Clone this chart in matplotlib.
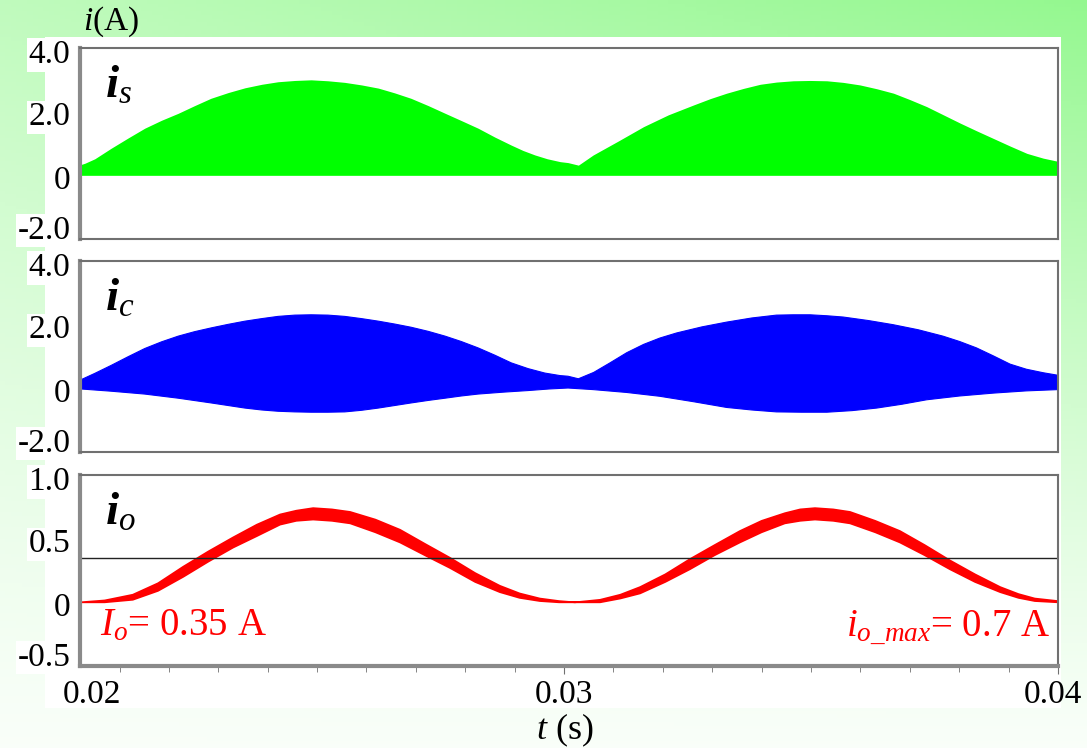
import numpy as np
import matplotlib
matplotlib.use('Agg')
from matplotlib import pyplot as plt
from matplotlib.patches import Rectangle
from matplotlib.ticker import MultipleLocator

plt.rcParams['font.family'] = ['Liberation Serif', 'DejaVu Serif']
plt.rcParams['mathtext.fontset'] = 'custom'
plt.rcParams['mathtext.rm'] = 'Liberation Serif'
plt.rcParams['mathtext.it'] = 'Liberation Serif:italic'
plt.rcParams['mathtext.bf'] = 'Liberation Serif:bold'
plt.rcParams['mathtext.bfit'] = 'Liberation Serif:bold:italic'

# source current i_s (upper envelope, filled down to 0)
t_s = [0.02020, 0.02030, 0.02050, 0.02083, 0.02117, 0.02151, 0.02185, 0.02219,
       0.02252, 0.02285, 0.02320, 0.02354, 0.02388, 0.02421, 0.02455, 0.02488,
       0.02522, 0.02556, 0.02590, 0.02624, 0.02657, 0.02690, 0.02725, 0.02759,
       0.02792, 0.02826, 0.02860, 0.02893, 0.02917, 0.02941, 0.02966, 0.02992,
       0.03008, 0.03029, 0.03059, 0.03110, 0.03161, 0.03211, 0.03262, 0.03296,
       0.03329, 0.03363, 0.03397, 0.03430, 0.03464, 0.03498, 0.03532, 0.03565,
       0.03599, 0.03633, 0.03667, 0.03700, 0.03734, 0.03768, 0.03802, 0.03835,
       0.03869, 0.03903, 0.03937, 0.03970, 0.04000]
i_s_top = [0.33, 0.38, 0.52, 0.85, 1.17, 1.48, 1.73, 1.95,
           2.19, 2.42, 2.60, 2.75, 2.86, 2.94, 2.98, 3.00,
           2.97, 2.92, 2.84, 2.74, 2.59, 2.42, 2.19, 1.95,
           1.72, 1.48, 1.20, 0.95, 0.78, 0.64, 0.52, 0.43,
           0.40, 0.32, 0.64, 1.08, 1.53, 1.90, 2.21, 2.41,
           2.58, 2.73, 2.86, 2.93, 2.97, 2.98, 2.97, 2.92,
           2.84, 2.72, 2.58, 2.38, 2.16, 1.90, 1.64, 1.40,
           1.16, 0.92, 0.69, 0.54, 0.44]

# capacitor current i_c (upper and lower envelopes)
t_c_top = [0.02022, 0.02050, 0.02083, 0.02117, 0.02151, 0.02185, 0.02219, 0.02252,
           0.02286, 0.02320, 0.02354, 0.02388, 0.02421, 0.02455, 0.02488, 0.02522,
           0.02556, 0.02590, 0.02624, 0.02657, 0.02690, 0.02725, 0.02759, 0.02792,
           0.02826, 0.02860, 0.02893, 0.02927, 0.02961, 0.02992, 0.03008, 0.03029,
           0.03060, 0.03093, 0.03127, 0.03161, 0.03194, 0.03228, 0.03279, 0.03329,
           0.03380, 0.03430, 0.03464, 0.03498, 0.03532, 0.03565, 0.03616, 0.03666,
           0.03717, 0.03767, 0.03801, 0.03835, 0.03869, 0.03903, 0.03936, 0.03970,
           0.04000]
i_c_top = [0.27, 0.47, 0.72, 0.99, 1.25, 1.46, 1.64, 1.78,
           1.90, 2.01, 2.11, 2.19, 2.26, 2.30, 2.31, 2.30,
           2.26, 2.19, 2.11, 2.02, 1.92, 1.79, 1.64, 1.47,
           1.27, 1.04, 0.80, 0.62, 0.48, 0.40, 0.38, 0.30,
           0.50, 0.80, 1.12, 1.38, 1.58, 1.74, 1.93, 2.08,
           2.21, 2.30, 2.31, 2.31, 2.28, 2.24, 2.13, 2.00,
           1.84, 1.64, 1.47, 1.27, 1.02, 0.76, 0.60, 0.49,
           0.41]
t_c_bot = [0.02022, 0.02083, 0.02151, 0.02219, 0.02286, 0.02320, 0.02354, 0.02388,
           0.02421, 0.02455, 0.02488, 0.02522, 0.02556, 0.02590, 0.02624, 0.02657,
           0.02690, 0.02725, 0.02759, 0.02792, 0.02826, 0.02877, 0.02927, 0.02970,
           0.03008, 0.03059, 0.03127, 0.03194, 0.03262, 0.03329, 0.03380, 0.03430,
           0.03481, 0.03532, 0.03583, 0.03633, 0.03684, 0.03734, 0.03801, 0.03869,
           0.03936, 0.04000]
i_c_bot = [-0.02, -0.09, -0.18, -0.31, -0.46, -0.54, -0.62, -0.68,
           -0.72, -0.74, -0.75, -0.75, -0.74, -0.69, -0.62, -0.54,
           -0.46, -0.38, -0.31, -0.24, -0.18, -0.12, -0.07, -0.02,
           0.01, -0.04, -0.13, -0.25, -0.42, -0.60, -0.68, -0.74,
           -0.75, -0.75, -0.70, -0.62, -0.50, -0.36, -0.24, -0.15,
           -0.08, -0.04]

# output current i_o (band between lower and upper envelope)
t_o = [0.02020, 0.02070, 0.02127, 0.02178, 0.02229, 0.02280, 0.02330, 0.02378,
       0.02425, 0.02458, 0.02492, 0.02530, 0.02567, 0.02618, 0.02668, 0.02718,
       0.02769, 0.02820, 0.02870, 0.02910, 0.02951, 0.02990, 0.03022, 0.03073,
       0.03114, 0.03154, 0.03205, 0.03255, 0.03305, 0.03356, 0.03400, 0.03447,
       0.03478, 0.03508, 0.03545, 0.03579, 0.03630, 0.03680, 0.03730, 0.03781,
       0.03832, 0.03883, 0.03920, 0.03953, 0.04000]
i_o_top = [0.00, 0.015, 0.06, 0.15, 0.28, 0.40, 0.51, 0.61,
           0.69, 0.72, 0.74, 0.73, 0.71, 0.65, 0.57, 0.46,
           0.35, 0.23, 0.13, 0.07, 0.03, 0.01, 0.00, 0.02,
           0.06, 0.12, 0.22, 0.34, 0.45, 0.56, 0.64, 0.70,
           0.73, 0.74, 0.73, 0.71, 0.64, 0.56, 0.45, 0.33,
           0.22, 0.12, 0.065, 0.03, 0.01]
i_o_bot = [0.00, 0.00, 0.02, 0.09, 0.20, 0.32, 0.43, 0.52,
           0.61, 0.64, 0.65, 0.64, 0.62, 0.55, 0.47, 0.37,
           0.27, 0.16, 0.08, 0.035, 0.01, 0.00, 0.00, 0.00,
           0.03, 0.07, 0.16, 0.26, 0.37, 0.47, 0.55, 0.62,
           0.64, 0.65, 0.64, 0.62, 0.55, 0.47, 0.37, 0.26,
           0.16, 0.08, 0.035, 0.01, 0.00]
I_o_avg = 0.35

yticks_top = [4.0, 2.0, 0.0, -2.0]
yticklabels_top = ['4.0', '2.0', '0', '-2.0']
yticks_bot = [1.0, 0.5, 0.0, -0.5]
yticklabels_bot = ['1.0', '0.5', '0', '-0.5']
xtick_labels = ['0.02', '0.03', '0.04']

W, H = 1087, 748
fig = plt.figure(figsize=(W / 100, H / 100), dpi=100)

# green gradient backdrop + white plotting card
bg = fig.add_axes([0, 0, 1, 1], zorder=-10)
gx, gy = np.meshgrid(np.linspace(0, 1, 200), np.linspace(0, 1, 200))
f = (0.50 + 0.38 * gx) * gy ** 1.2 + 0.05
green = np.array([0.55, 0.97, 0.53])
img = 1 - f[..., None] * (1 - green)
bg.imshow(img, extent=[0, 1, 0, 1], origin='lower', aspect='auto')
bg.add_patch(Rectangle((45 / W, 1 - 708 / H), (1061 - 45) / W, (708 - 37) / H,
                       facecolor='white', edgecolor='none'))
bg.set_xlim(0, 1)
bg.set_ylim(0, 1)
bg.axis('off')

left, width, height = 80 / W, 978 / W, 191 / H
bottoms = [1 - 239 / H, 1 - 452 / H, 1 - 666 / H]
axes = [fig.add_axes([left, b, width, height]) for b in bottoms]

for ax in axes:
    ax.set_xlim(0.0202, 0.04)
    ax.set_facecolor('white')
    for side in ['top', 'right', 'bottom']:
        ax.spines[side].set_color('#707070')
        ax.spines[side].set_linewidth(1.5)
    ax.spines['left'].set_color('#8a8a8a')
    ax.spines['left'].set_linewidth(3)
    ax.set_yticks([])
    ax.set_xticks([])

ax1, ax2, ax3 = axes

ax1.fill_between(t_s, 0, i_s_top, color='#00ff00', lw=0)
ax1.set_ylim(-2, 4)

ax2.fill(np.concatenate([t_c_top, t_c_bot[::-1]]),
         np.concatenate([i_c_top, i_c_bot[::-1]]),
         color='#0000ff', lw=0.8)
ax2.set_ylim(-2, 4)

ax3.fill(np.concatenate([t_o, t_o[::-1]]),
         np.concatenate([i_o_top, i_o_bot[::-1]]),
         facecolor='#ff0000', edgecolor='#ff0000', lw=1.2)
ax3.axhline(I_o_avg, color='#222222', lw=1)
ax3.set_ylim(-0.5, 1.0)

# y labels on white patches; the end labels sit a little inside the frame
for ax, ticks, labels in [(ax1, yticks_top, yticklabels_top),
                          (ax2, yticks_top, yticklabels_top),
                          (ax3, yticks_bot, yticklabels_bot)]:
    for i, (v, s) in enumerate(zip(ticks, labels)):
        dy = -4
        if i == 0:
            dy = -5
        elif i == len(ticks) - 1:
            dy = 6
        ax.annotate(s, xy=(0, v), xycoords=ax.get_yaxis_transform(),
                    xytext=(-7, dy), textcoords='offset points',
                    ha='right', va='center', fontsize=24, annotation_clip=False,
                    bbox=dict(facecolor='white', edgecolor='none', pad=1))

# x axis only on the bottom panel
ax3.spines['bottom'].set_color('#8a8a8a')
ax3.spines['bottom'].set_linewidth(3)
ax3.set_xticks([0.03, 0.04])
ax3.xaxis.set_minor_locator(MultipleLocator(0.001))
ax3.tick_params(axis='x', which='major', length=6, color='#707070', labelbottom=False)
ax3.tick_params(axis='x', which='minor', length=4, color='#707070')
xtr = ax3.get_xaxis_transform()
ax3.text(0.02045, -0.07, xtick_labels[0], transform=xtr, ha='center', va='top', fontsize=24)
ax3.text(0.0300, -0.07, xtick_labels[1], transform=xtr, ha='center', va='top', fontsize=24)
ax3.text(0.03990, -0.07, xtick_labels[2], transform=xtr, ha='center', va='top', fontsize=24)

# panel labels
ax1.text(0.026, 0.80, r'$\mathbfit{i}_{s}$', transform=ax1.transAxes, fontsize=34, va='center')
ax2.text(0.026, 0.80, r'$\mathbfit{i}_{c}$', transform=ax2.transAxes, fontsize=34, va='center')
ax3.text(0.026, 0.80, r'$\mathbfit{i}_{o}$', transform=ax3.transAxes, fontsize=34, va='center')

ax3.text(0.02, 0.21, r'$I_o$= 0.35 A', transform=ax3.transAxes, color='#ff0000',
         fontsize=28, ha='left', va='center')
ax3.text(0.992, 0.20, r'$i_{o\_max}$= 0.7 A', transform=ax3.transAxes, color='#ff0000',
         fontsize=28, ha='right', va='center')

fig.text(83 / W, 1 - 22 / H, r'$i$(A)', fontsize=24, ha='left', va='center')
fig.text(565 / W, 1 - 730 / H, r'$t$ (s)', fontsize=26, ha='center', va='center')

fig.savefig('out.png', dpi=100)
